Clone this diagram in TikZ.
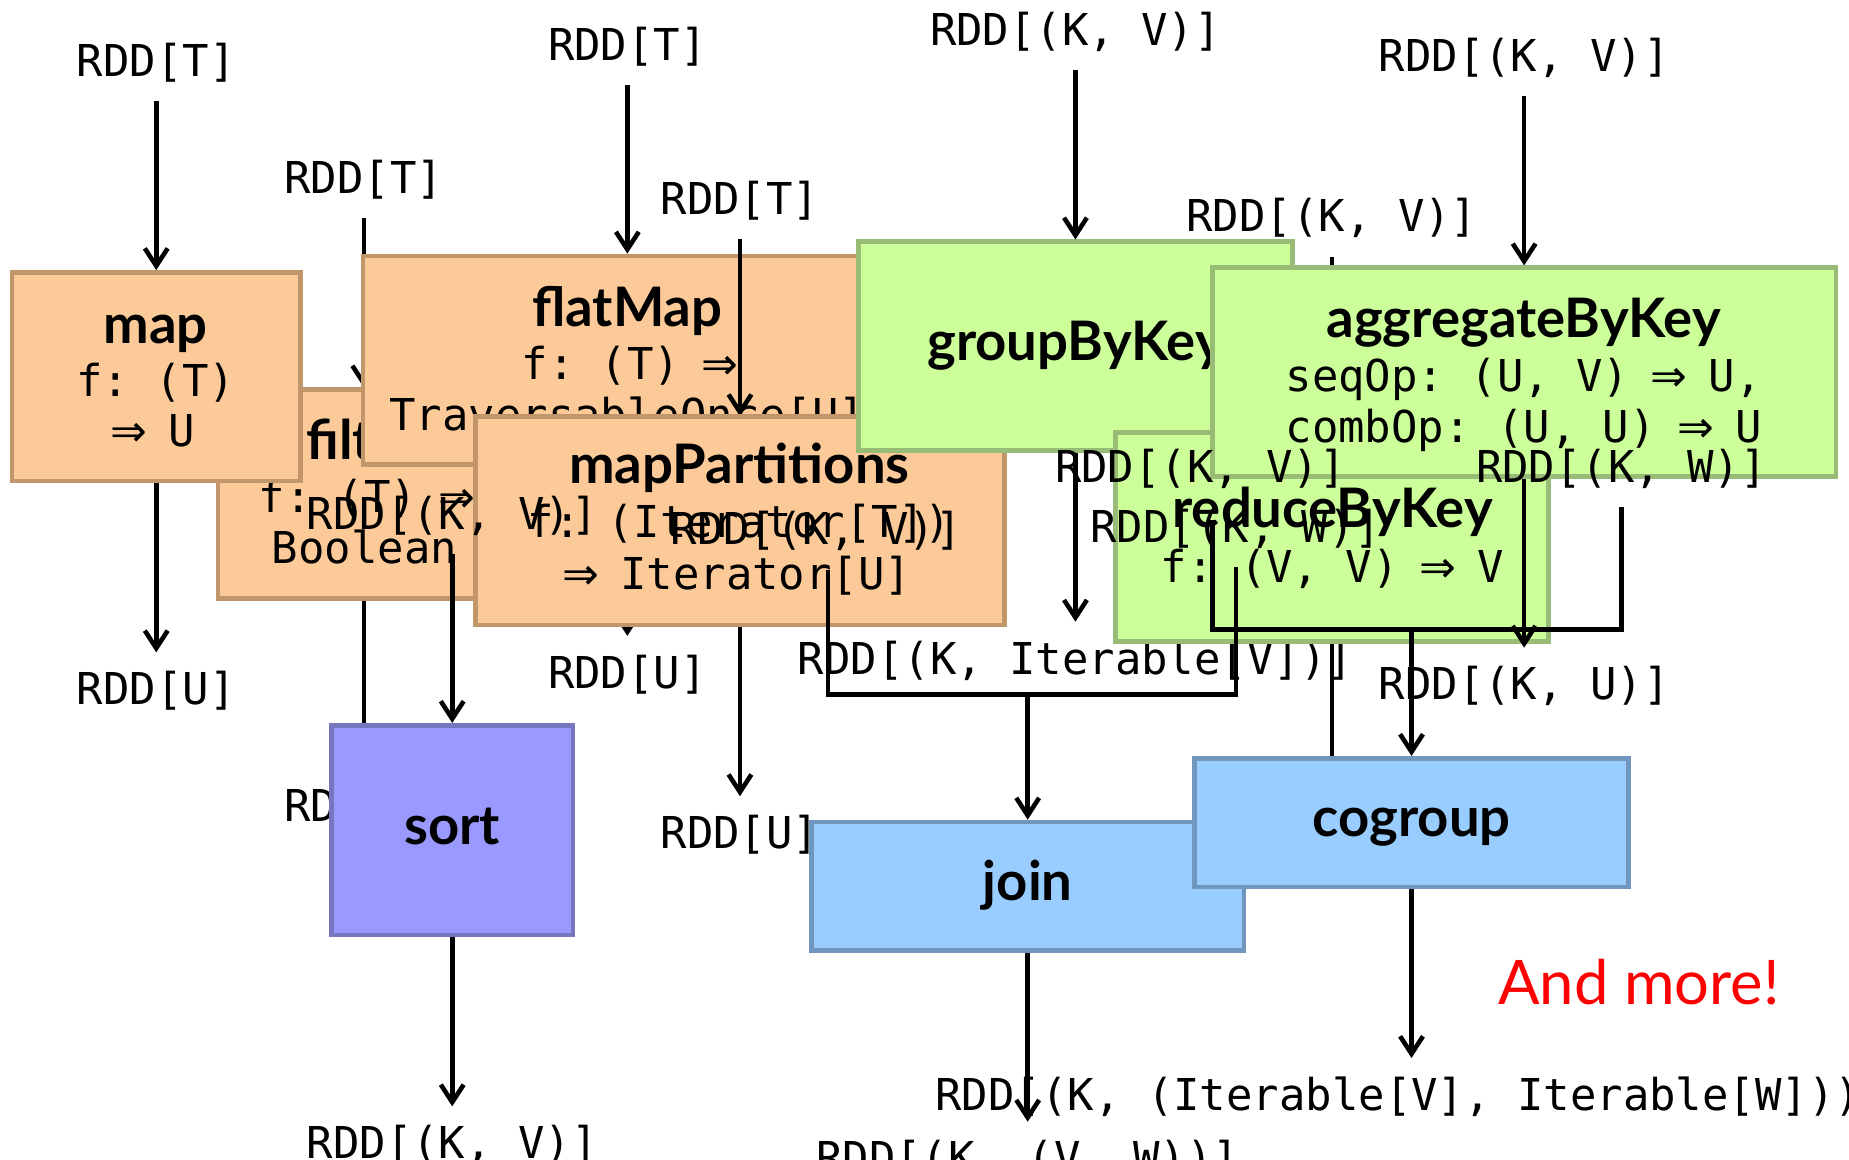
\documentclass[tikz,border=0pt]{standalone}
\usepackage{fontspec}
\setmonofont{DejaVu Sans Mono}
\newfontfamily\titlefont{Lato}
\newfontfamily\arrowfont{DejaVu Sans}
\usepackage{tikz}
\usetikzlibrary{positioning}
\usetikzlibrary{arrows.meta}

\newcommand{\rddfont}{\ttfamily\fontsize{12.5}{14.5}\selectfont}
\newcommand{\opfont}{\titlefont\bfseries\fontsize{15.5}{18}\selectfont}
\newcommand{\imp}{\makebox[7.5pt]{\arrowfont ⇒}}
\def\unit{0.011792cm}

\definecolor{elemfill}{RGB}{252,202,152}
\definecolor{elemline}{RGB}{193,150,107}
\definecolor{keyfill}{RGB}{204,255,153}
\definecolor{keyline}{RGB}{152,187,118}
\definecolor{sortfill}{RGB}{153,153,255}
\definecolor{sortline}{RGB}{118,118,190}
\definecolor{pairfill}{RGB}{153,204,255}
\definecolor{pairline}{RGB}{112,150,190}

\begin{document}
\begin{tikzpicture}[x=\unit,y=-\unit,>={Straight Barb[length=5pt,width=6.5pt]},
    node distance=1.69cm,line width=1.3pt,
    rdd/.style={font=\rddfont,inner xsep=1pt,inner ysep=4.7pt},
    txt/.style={font=\rddfont,anchor=base,inner sep=0pt},
    opname/.style={font=\opfont,anchor=base,inner sep=0pt},
    boxname/.style={font=\opfont,text height=11pt,text depth=3pt},
    elembox/.style={draw=elemline,fill=elemfill,minimum height=177*\unit},
    keybox/.style={draw=keyline,fill=keyfill,minimum height=177*\unit},
    sortbox/.style={draw=sortline,fill=sortfill,minimum height=178*\unit,boxname},
    pairbox/.style={draw=pairline,fill=pairfill,minimum height=109*\unit,boxname}]
  \useasboundingbox (0,0) rectangle (1568,983);

  % filter
  \node[elembox,minimum width=247*\unit] (filter) at (308.5,419) {};
  \node[opname] (filtername) at (309,390) {filter};
  \node[txt]    (filterf)    at (309,435) {f: (T) \imp};
  \node[txt]    (filterres)  at (309,478) {Boolean};
  \node[rdd,above=of filter] (filterin)  {RDD[T]};
  \node[rdd,below=of filter] (filterout) {RDD[T]};
  \draw[->] (filterin) -- (filter);
  \draw[->] (filter) -- (filterout);

  % map
  \node[elembox,minimum width=245*\unit] (map) at (132.5,319.5) {};
  \node[opname] (mapname) at (132,291) {map};
  \node[txt]    (mapf)    at (132,336) {f: (T)};
  \node[txt]    (mapres)  at (132,379) {\imp{} U};
  \node[rdd,above=of map] (mapin)  {RDD[T]};
  \node[rdd,below=of map] (mapout) {RDD[U]};
  \draw[->] (mapin) -- (map);
  \draw[->] (map) -- (mapout);

  % flatMap
  \node[elembox,minimum width=448*\unit] (flatmap) at (532,305.5) {};
  \node[opname] (flatmapname) at (532,277) {flatMap};
  \node[txt]    (flatmapf)    at (532,322) {f: (T) \imp};
  \node[txt]    (flatmapres)  at (532,365) {TraversableOnce[U]};
  \node[rdd,above=of flatmap] (flatmapin)  {RDD[T]};
  \node[rdd,below=of flatmap] (flatmapout) {RDD[U]};
  \draw[->] (flatmapin) -- (flatmap);
  \draw[->] (flatmap) -- (flatmapout);

  % mapPartitions
  \node[rdd] (partin) at (627.5,170) {RDD[T]};
  \draw[->] (partin) -- (627.5,353);
  \node[elembox,minimum width=449*\unit] (part) at (627.5,441.5) {};
  \node[opname] (partname) at (627,410) {mapPartitions};
  \node[txt]    (partf)    at (627,456) {f: (Iterator[T])};
  \node[txt]    (partres)  at (627,500) {\imp{} Iterator[U]};
  \node[rdd,below=of part] (partout) {RDD[U]};
  \draw[->] (part) -- (partout);

  % sort
  \node[sortbox,minimum width=205*\unit] (sort) at (383.5,704) {sort};
  \node[rdd,above=of sort] (sortin)  {RDD[(K, V)]};
  \node[rdd,below=of sort] (sortout) {RDD[(K, V)]};
  \draw[->] (sortin) -- (sort);
  \draw[->] (sort) -- (sortout);

  % groupByKey
  \node[keybox,minimum width=368*\unit,boxname] (group) at (912,293.5) {groupByKey};
  \node[rdd,above=of group] (groupin)  {RDD[(K, V)]};
  \node[rdd,below=of group] (groupout) {RDD[(K, Iterable[V])]};
  \draw[->] (groupin) -- (group);
  \draw[->] (group) -- (groupout);

  % reduceByKey
  \node[rdd] (reducein) at (1129.5,185) {RDD[(K, V)]};
  \draw[->] (reducein) -- (1129.5,367);
  \node[keybox,minimum width=367*\unit] (reduce) at (1129.5,455.5) {};
  \node[opname] (reducename) at (1130,447) {reduceByKey};
  \node[txt]    (reducef)    at (1130,494) {f: (V, V) \imp{} V};
  \coordinate (reduceend) at (1129.5,680);
  \draw (reduce) -- (reduceend);

  % aggregateByKey
  \node[keybox,minimum width=529*\unit] (aggr) at (1292.5,315.5) {};
  \node[opname] (aggrname) at (1292,286) {aggregateByKey};
  \node[txt]    (aggrseq)  at (1292,332) {seqOp: (U, V) \imp{} U,};
  \node[txt]    (aggrcomb) at (1292,375) {combOp: (U, U) \imp{} U};
  \node[rdd,above=of aggr] (aggrin)  {RDD[(K, V)]};
  \node[rdd,below=of aggr] (aggrout) {RDD[(K, U)]};
  \draw[->] (aggrin) -- (aggr);
  \draw[->] (aggr) -- (aggrout);

  % join
  \node[rdd,anchor=base] (joinv) at (692,462)  {RDD[(K, V)]};
  \node[rdd,anchor=base] (joinw) at (1048,460) {RDD[(K, W)]};
  \coordinate (joinmid) at (871.5,589);
  \draw (joinv.south) ++(10,0) |- (joinmid) -| (joinw.south);
  \node[pairbox,minimum width=367*\unit] (join) at (871.5,751.5) {join};
  \draw[->] (joinmid) -- (join);
  \node[rdd,below=of join] (joinout) {RDD[(K, (V, W))]};
  \draw[->] (join) -- (joinout);

  % cogroup
  \node[rdd,anchor=base] (cogv) at (1018,409) {RDD[(K, V)]};
  \node[rdd,anchor=base] (cogw) at (1375,409) {RDD[(K, W)]};
  \coordinate (cogmid) at (1197,534);
  \draw (cogv.south) ++(10,11) |- (cogmid) -| (cogw.south);
  \node[pairbox,minimum width=368*\unit] (cogroup) at (1197,697.5) {cogroup};
  \draw[->] (cogmid) -- (cogroup);
  \node[rdd,below=of cogroup] (cogout) {RDD[(K, (Iterable[V], Iterable[W]))]};
  \draw[->] (cogroup) -- (cogout);

  \node[font=\titlefont\fontsize{17.5}{20}\selectfont,text=red,anchor=base] (more) at (1390,852) {And more!};
\end{tikzpicture}
\end{document}
